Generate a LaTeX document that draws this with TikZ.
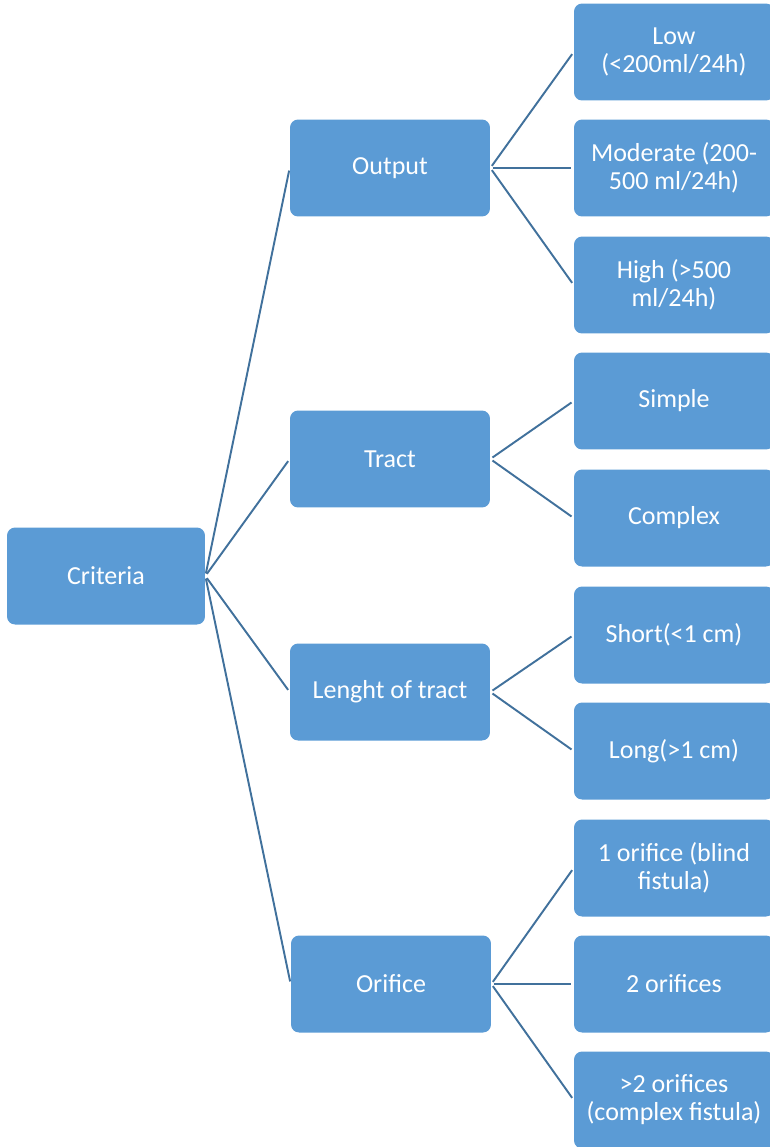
\documentclass[tikz,border=0pt]{standalone}
\usepackage{fontspec}
\setmainfont{Carlito}
\usetikzlibrary{positioning}
\definecolor{boxblue}{HTML}{5B9BD5}
\definecolor{linkblue}{HTML}{41719C}
\tikzset{block/.style={rectangle,fill=boxblue,text=white,align=center,rounded corners=0.16cm,minimum width=4cm,minimum height=1.94cm,inner sep=2pt,font=\fontsize{14.8}{16}\selectfont},
         leaf/.style={block},
         link/.style={draw=linkblue,line width=1.1pt,shorten >=1.5pt,shorten <=1.5pt}}

\begin{document}
\begin{tikzpicture}[x=0.02cm,y=-0.02cm]
    \useasboundingbox (0,0) rectangle (769,1147);
    \node (criteria) [block, minimum width=3.96cm] at (106,576) {Criteria};
    % second level
    \node (output) [block] at (390,168) {Output};
    \node (tract) [block] at (390,459) {Tract};
    \node (length) [block] at (390,692) {Lenght of tract};
    \node (orifice) [block] at (391,984) {Orifice};
    % leaves
    \node (low) [leaf] at (674,52) {Low\\(<200ml/24h)};
    \node (moderate) [leaf] at (674,168) {Moderate (200-\\500 ml/24h)};
    \node (high) [leaf] at (674,285) {High (>500\\ml/24h)};
    \node (simple) [leaf] at (674,401) {Simple};
    \node (complex) [leaf] at (674,518) {Complex};
    \node (short) [leaf] at (674,635) {Short(<1 cm)};
    \node (long) [leaf] at (674,751) {Long(>1 cm)};
    \node (one) [leaf] at (674,868) {1 orifice (blind\\fistula)};
    \node (two) [leaf] at (674,984) {2 orifices};
    \node (many) [leaf] at (674,1100) {>2 orifices\\(complex fistula)};
    % links
    \foreach \child in {output,tract,length,orifice}
        \draw[link] (criteria.east) -- (\child.west);
    \foreach \child in {low,moderate,high}
        \draw[link] (output.east) -- (\child.west);
    \foreach \child in {simple,complex}
        \draw[link] (tract.east) -- (\child.west);
    \foreach \child in {short,long}
        \draw[link] (length.east) -- (\child.west);
    \foreach \child in {one,two,many}
        \draw[link] (orifice.east) -- (\child.west);
\end{tikzpicture}
\end{document}
